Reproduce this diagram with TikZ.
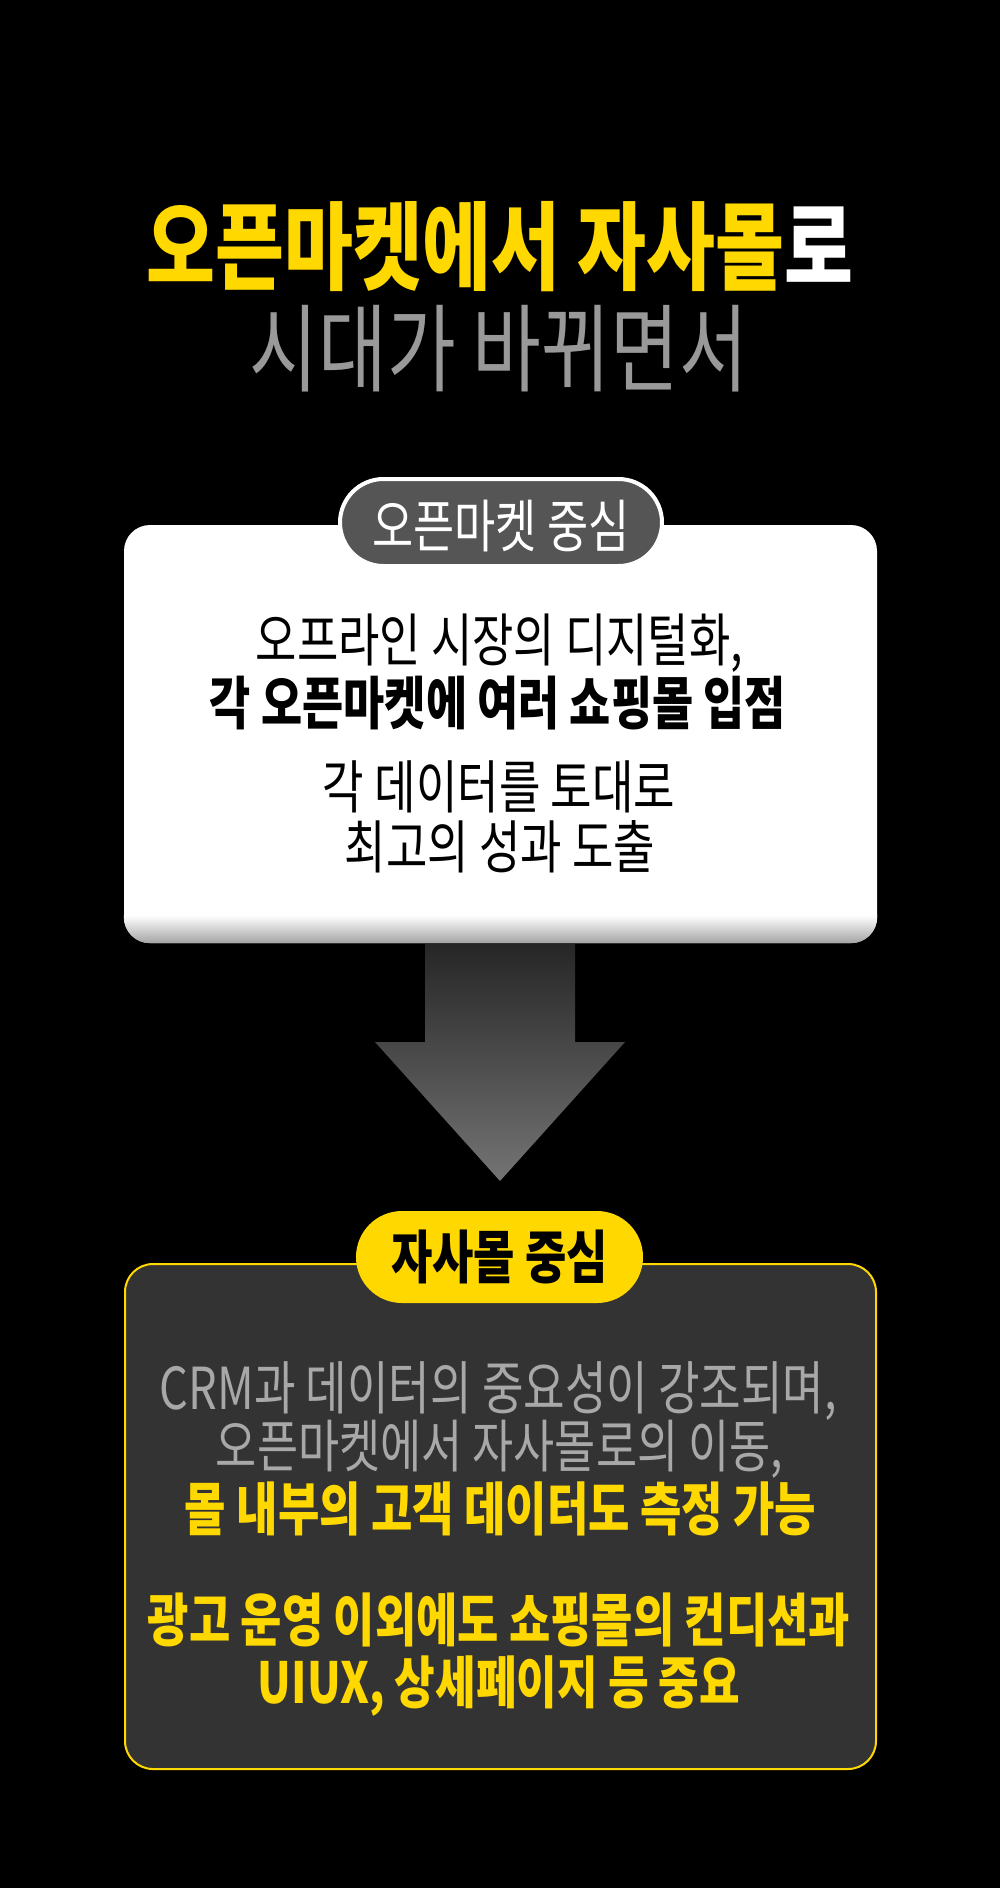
\documentclass[tikz,border=0pt]{standalone}
\usepackage{fontspec}
\usepackage{graphicx}
\setmainfont{Noto Sans CJK KR}[FakeStretch=0.78]
\usetikzlibrary{shapes.misc}
\definecolor{ylw}{HTML}{FFD800}
\definecolor{tgray}{HTML}{999999}
\definecolor{pillgray}{HTML}{555555}
\definecolor{boxdark}{HTML}{333333}
\definecolor{dgray}{HTML}{A8A8A8}
\definecolor{shadegray}{HTML}{A4A4A4}
\definecolor{arrtop}{HTML}{262626}
\definecolor{arrbot}{HTML}{747474}
\newcommand{\fitw}[2]{\resizebox{#1}{!}{#2}}
\begin{document}
\begin{tikzpicture}[x=1pt,y=-1pt,
  txt/.style={inner sep=0pt, outer sep=0pt, anchor=center},
  wboxstyle/.style={rectangle, rounded corners=26pt, fill=white, draw=none,
    minimum width=753pt, minimum height=418pt, inner sep=0pt},
  dboxstyle/.style={rectangle, rounded corners=28pt, fill=boxdark, draw=ylw, line width=2pt,
    minimum width=751pt, minimum height=505pt, inner sep=0pt},
  pillA/.style={rounded rectangle, fill=pillgray, draw=white, line width=4pt,
    minimum width=322pt, minimum height=87pt, inner sep=0pt},
  pillB/.style={rounded rectangle, fill=ylw, draw=none,
    minimum width=287pt, minimum height=92pt, inner sep=0pt},
  ]
\fill[black] (0,0) rectangle (1000,1888);
\useasboundingbox (0,0) rectangle (1000,1888);

% title
\node[txt] (t1) at (500,247) {\fitw{706pt}{\fontsize{80}{96}\selectfont\bfseries\textcolor{ylw}{오픈마켓에서 자사몰}\textcolor{white}{로}}};
\node[txt] (t2) at (499,349) {\fitw{498pt}{\fontsize{80}{96}\selectfont\textcolor{tgray}{시대가 바뀌면서}}};

% white box
\node[wboxstyle] (wb) at (500.5,734) {};
\begin{scope}
  \clip[rounded corners=26pt] (wb.north west) rectangle (wb.south east);
  \shade[top color=white, bottom color=shadegray] ([yshift=28pt]wb.south west) rectangle (wb.south east);
\end{scope}

% pill 1
\node[pillA] (p1) at (501,522.5) {};
\node[txt] (p1t) at ([yshift=-4pt]p1.center) {\fitw{257pt}{\fontsize{49}{58}\selectfont\textcolor{white}{오픈마켓 중심}}};

% white box texts
\node[txt] (b1) at (499.5,643) {\fitw{487pt}{\fontsize{48}{58}\selectfont 오프라인 시장의 디지털화,}};
\node[txt] (b2) at (498,703.5) {\fitw{576pt}{\fontsize{48}{58}\selectfont\bfseries 각 오픈마켓에 여러 쇼핑몰 입점}};
\node[txt] (b3) at (499,787) {\fitw{352pt}{\fontsize{48}{58}\selectfont 각 데이터를 토대로}};
\node[txt] (b4) at (500,847) {\fitw{310pt}{\fontsize{48}{58}\selectfont 최고의 성과 도출}};

% arrow
\shade[top color=arrtop, bottom color=arrbot]
  (425,944) -- (575,944) -- (575,1042) -- (625,1042) -- (500,1181) -- (375,1042) -- (425,1042) -- cycle;

% dark box
\node[dboxstyle] (db) at (500.5,1516.5) {};

% pill 2
\node[pillB] (p2) at (499.5,1257) {};
\node[txt] (p2t) at ([yshift=0pt]p2.center) {\fitw{217pt}{\fontsize{50}{60}\selectfont\bfseries 자사몰 중심}};

% dark box texts
\node[txt] (d1) at (498.5,1391) {\fitw{677pt}{\fontsize{48}{58}\selectfont\textcolor{dgray}{CRM과 데이터의 중요성이 강조되며,}}};
\node[txt] (d2) at (499.5,1449) {\fitw{567pt}{\fontsize{48}{58}\selectfont\textcolor{dgray}{오픈마켓에서 자사몰로의 이동,}}};
\node[txt] (d3) at (500.5,1508.5) {\fitw{631pt}{\fontsize{48}{58}\selectfont\bfseries\textcolor{ylw}{몰 내부의 고객 데이터도 측정 가능}}};
\node[txt] (d4) at (499,1620) {\fitw{702pt}{\fontsize{48}{58}\selectfont\bfseries\textcolor{ylw}{광고 운영 이외에도 쇼핑몰의 컨디션과}}};
\node[txt] (d5) at (499,1686) {\fitw{482pt}{\fontsize{48}{58}\selectfont\bfseries\textcolor{ylw}{UIUX, 상세페이지 등 중요}}};
\end{tikzpicture}
\end{document}
